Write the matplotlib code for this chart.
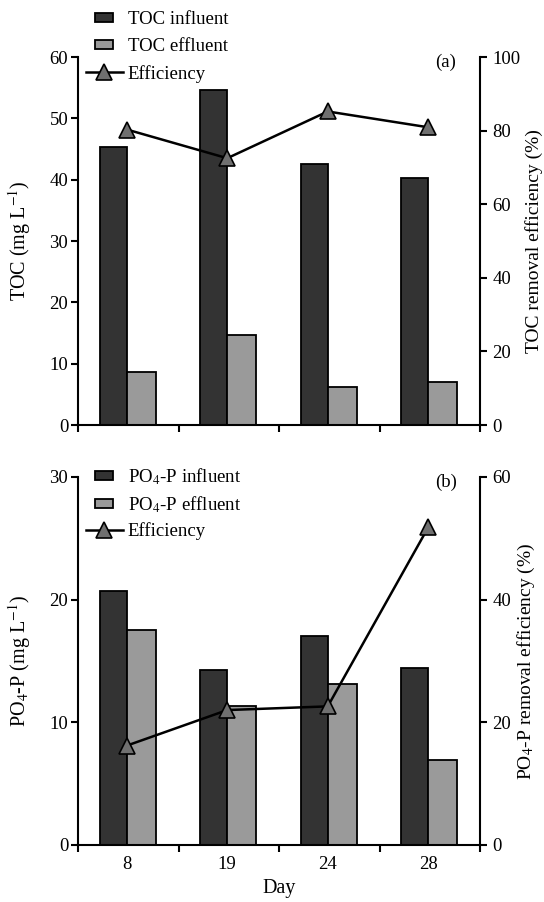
import matplotlib.pyplot as plt
from matplotlib.lines import Line2D
from matplotlib.patches import Patch, Rectangle
from matplotlib.legend_handler import HandlerPatch

days = ["8", "19", "24", "28"]

toc_influent = [45.3, 54.6, 42.5, 40.2]
toc_effluent = [8.6, 14.6, 6.2, 7.0]
toc_efficiency = [80.3, 72.5, 85.2, 80.9]

po4_influent = [20.7, 14.3, 17.0, 14.4]
po4_effluent = [17.5, 11.3, 13.1, 6.9]
po4_efficiency = [16.2, 22.0, 22.6, 51.8]

plt.rcParams["font.family"] = ["Liberation Serif", "DejaVu Serif"]
plt.rcParams["mathtext.fontset"] = "stix"
plt.rcParams["font.size"] = 13.5

INF_COLOR = "#333333"
EFF_COLOR = "#9a9a9a"
MARK_COLOR = "#707070"


def small_box(legend, orig_handle, xdescent, ydescent, width, height, fontsize):
    # narrow box centred in the handle area, like the original legend
    bw = width * 0.48
    bh = height * 0.8
    return Rectangle((-xdescent + (width - bw) / 2, -ydescent + (height - bh) / 2),
                     bw, bh)


def panel(fig, rect, influent, effluent, eff, ylim, y2lim, yticks, y2ticks,
          ylabel, y2label, names, tag, show_x, leg_y, leg_space):
    ax = fig.add_axes(rect)
    n = len(days)
    centers = [i + 0.485 for i in range(n)]
    w = 0.27
    ax.bar([c - w / 2 for c in centers], influent, width=w, color=INF_COLOR,
           edgecolor="black", linewidth=1.3)
    ax.bar([c + w / 2 + 0.01 for c in centers], effluent, width=w + 0.02,
           color=EFF_COLOR, edgecolor="black", linewidth=1.3)
    ax.set_xlim(0, n)
    ax.set_ylim(*ylim)
    ax.set_yticks(yticks)
    ax.set_xticks(range(n + 1))
    ax.set_xticklabels([])
    ax.set_xticks(centers, minor=True)
    if show_x:
        ax.set_xticklabels(days, minor=True)
        ax.set_xlabel("Day", labelpad=4, fontsize=14.5)
    ax.tick_params(axis="x", which="minor", length=0, pad=8)
    ax.tick_params(axis="x", which="major", length=5, width=1.5, direction="out")
    ax.tick_params(axis="y", length=5, width=1.5, direction="out", pad=2)
    ax.set_ylabel(ylabel, labelpad=12, fontsize=14.5)
    for s in ["top", "right"]:
        ax.spines[s].set_visible(False)
    for s in ["left", "bottom"]:
        ax.spines[s].set_linewidth(1.5)

    ax2 = ax.twinx()
    ax2.plot(centers, eff, color="black", linewidth=1.8, marker="^",
             markersize=11, markerfacecolor=MARK_COLOR, markeredgecolor="black",
             markeredgewidth=1.2, zorder=5)
    ax2.set_ylim(*y2lim)
    ax2.set_yticks(y2ticks)
    ax2.tick_params(axis="y", length=5, width=1.5, direction="out", pad=4)
    ax2.set_ylabel(y2label, labelpad=3, fontsize=14)
    for s in ["top", "left", "bottom"]:
        ax2.spines[s].set_visible(False)
    ax2.spines["right"].set_linewidth(1.5)

    handles = [
        Patch(facecolor=INF_COLOR, edgecolor="black", linewidth=1.3),
        Patch(facecolor=EFF_COLOR, edgecolor="black", linewidth=1.3),
        Line2D([], [], color="black", linewidth=1.8, marker="^", markersize=11,
               markerfacecolor=MARK_COLOR, markeredgecolor="black",
               markeredgewidth=1.2),
    ]
    ax2.legend(handles, names, loc="upper left", bbox_to_anchor=(0.0, leg_y),
               frameon=False, handlelength=2.0, handleheight=0.6,
               handletextpad=0.25, labelspacing=leg_space, borderaxespad=0.0,
               handler_map={Patch: HandlerPatch(patch_func=small_box)})
    ax2.text(0.915, 0.986, tag, transform=ax2.transAxes, ha="center",
             va="center")
    return ax, ax2


fig = plt.figure(figsize=(5.44, 9.02), dpi=100)

panel(fig, [0.1434, 0.5288, 0.739, 0.408], toc_influent, toc_effluent,
      toc_efficiency, (0, 60), (0, 100), range(0, 61, 10), range(0, 101, 20),
      "TOC (mg L$^{-1}$)", "TOC removal efficiency (%)",
      ["TOC influent", "TOC effluent", "Efficiency"], "(a)", False, 1.145, 0.52)

panel(fig, [0.1434, 0.0632, 0.739, 0.408], po4_influent, po4_effluent,
      po4_efficiency, (0, 30), (0, 60), range(0, 31, 10), range(0, 61, 20),
      "PO$_4$-P (mg L$^{-1}$)", "PO$_4$-P removal efficiency (%)",
      ["PO$_4$-P influent", "PO$_4$-P effluent", "Efficiency"], "(b)", True, 1.05, 0.4)

fig.savefig("out.png", dpi=100)
